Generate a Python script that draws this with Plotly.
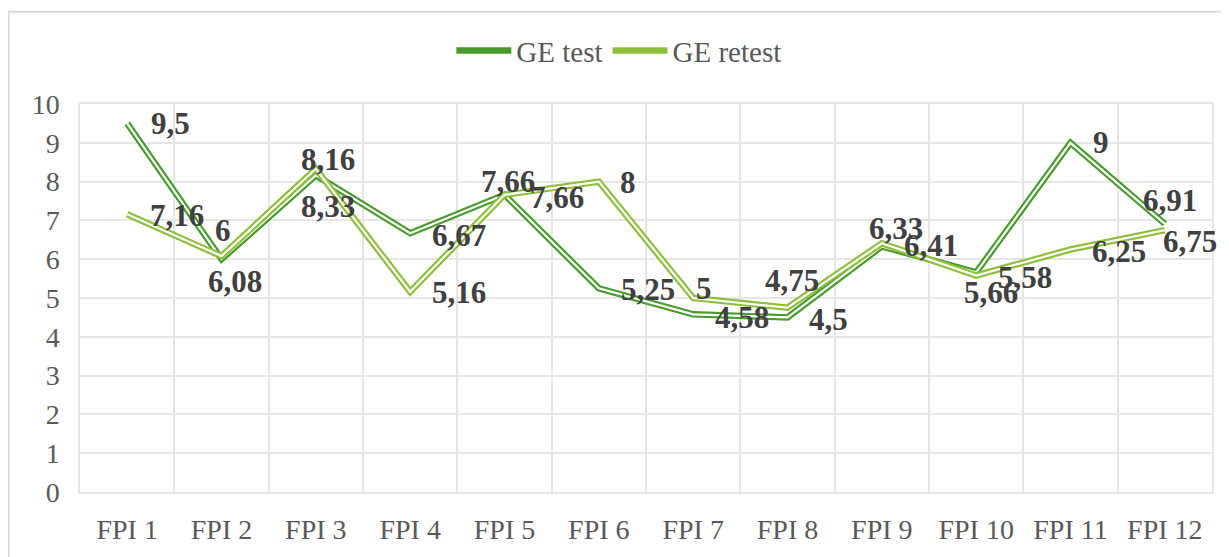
import plotly.graph_objects as go

categories = ["FPI 1", "FPI 2", "FPI 3", "FPI 4", "FPI 5", "FPI 6",
              "FPI 7", "FPI 8", "FPI 9", "FPI 10", "FPI 11", "FPI 12"]
ge_test = [9.5, 6, 8.16, 6.67, 7.66, 5.25, 4.58, 4.5, 6.33, 5.66, 9, 6.91]
ge_retest = [7.16, 6.08, 8.33, 5.16, 7.66, 8, 5, 4.75, 6.41, 5.58, 6.25, 6.75]
y_ticks = list(range(0, 11))

# label offsets in pixels (dx right, dy down) relative to each point
test_offsets = [(43, 0), (1, -29), (12, -16), (49, 2), (3, -13), (49, 1),
                (49, 3), (41, 2), (14, -18), (15, 20), (30, 0), (5, -23)]
retest_offsets = [(50, 1), (13, 25), (12, 38), (49, 1), (52, 3), (29, 1),
                  (11, -10), (4, -27), (49, 2), (49, 2), (48, 2), (25, 11)]

TEST_COLOR = "#479a2c"
RETEST_COLOR = "#8dbf3c"
GRID = "#e6e6e6"
FONT = "Liberation Serif"

x = list(range(len(categories)))


def fmt(v):
    return f"{v:g}".replace(".", ",")


fig = go.Figure()
for name, vals, color in [("GE test", ge_test, TEST_COLOR),
                          ("GE retest", ge_retest, RETEST_COLOR)]:
    fig.add_trace(go.Scatter(x=x, y=vals, mode="lines", name=name,
                             line=dict(color=color, width=6.5),
                             hoverinfo="skip"))
    fig.add_trace(go.Scatter(x=x, y=vals, mode="lines", showlegend=False,
                             line=dict(color="white", width=2.2),
                             hoverinfo="skip"))

annotations = []
for vals, offs in [(ge_test, test_offsets), (ge_retest, retest_offsets)]:
    for xi, v, (dx, dy) in zip(x, vals, offs):
        annotations.append(dict(
            x=xi, y=v, text=f"<b>{fmt(v)}</b>", showarrow=False,
            xanchor="center", yanchor="middle", xshift=dx, yshift=-dy,
            font=dict(family=FONT, size=31, color="#404040")))

# page has an 8px body margin, so the figure is sized/offset accordingly
W, H = 1221, 549
L, R, T, B = 72, 17, 96, 60
pw, ph = W - L - R, H - T - B
# outer chart border (pixel coords converted to paper)
bx0 = (0.5 - L) / pw
bx1 = (W + 60 - L) / pw
by1 = (H - B - 2.5) / ph
by0 = (H - B - (H + 60)) / ph

fig.update_layout(
    width=W, height=H,
    margin=dict(l=L, r=R, t=T, b=B),
    paper_bgcolor="white", plot_bgcolor="white",
    font=dict(family=FONT, color="#595959"),
    legend=dict(orientation="h", x=0.476, xanchor="center", y=(H - B - 42) / ph,
                yanchor="middle", font=dict(family=FONT, size=29, color="#595959"),
                itemwidth=55, bgcolor="rgba(0,0,0,0)"),
    annotations=annotations,
    shapes=[dict(type="rect", xref="paper", yref="paper",
                 x0=bx0, x1=bx1, y0=by0, y1=by1,
                 line=dict(color="#d9d9d9", width=2), layer="below")],
    xaxis=dict(range=[-0.5, len(categories) - 0.5], tickvals=x, ticktext=categories,
               showgrid=False, zeroline=False, showline=True, mirror=True,
               linecolor=GRID, linewidth=1.5,
               ticks="", ticklabelstandoff=12,
               tickfont=dict(family=FONT, size=28, color="#595959")),
    yaxis=dict(range=[0, 10], tickvals=y_ticks, showgrid=True, gridcolor=GRID,
               gridwidth=1.5, zeroline=False, showline=True, mirror=True,
               linecolor=GRID, linewidth=1.5, ticks="", ticklabelstandoff=13,
               tickfont=dict(family=FONT, size=28, color="#595959")),
)
fig.update_xaxes(minor=dict(tick0=-0.5, dtick=1, showgrid=True, gridcolor=GRID,
                            gridwidth=1.5))

fig.write_html("out.html")
